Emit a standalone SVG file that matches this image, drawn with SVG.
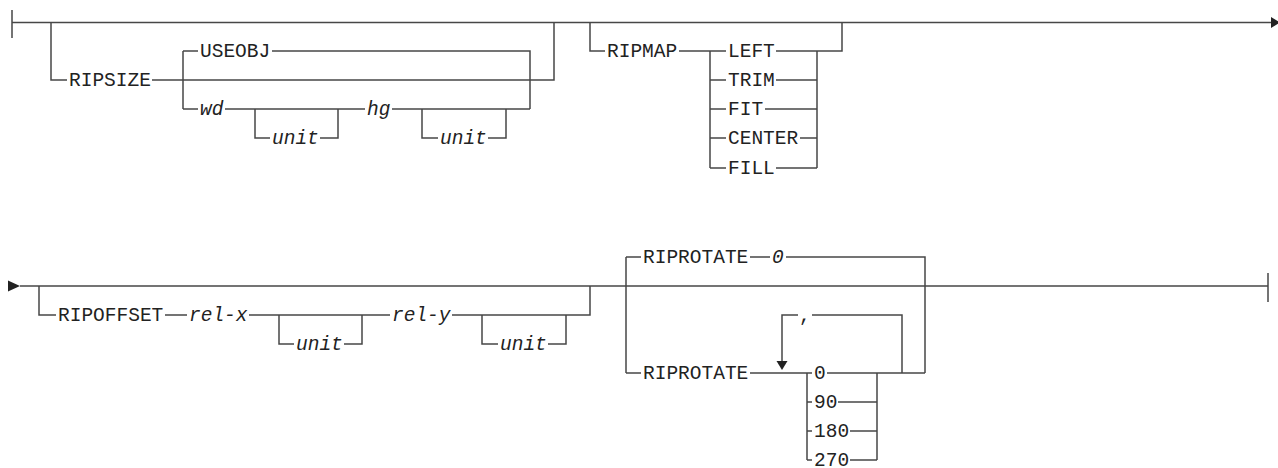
<svg xmlns="http://www.w3.org/2000/svg" width="1278" height="468" viewBox="0 0 1278 468">
<style>
.rail{fill:none;stroke:#474747;stroke-width:1.5}
.arr{fill:#222;stroke:none}
.t{font-family:"Liberation Mono","DejaVu Sans Mono",monospace;font-size:19.5px;fill:#222}
.i{font-style:italic}
</style>
<rect width="1278" height="468" fill="#fff"/>
<g id="connectors">
<path class="rail" d="M12 10V38M12 22.5H1272M51 22.5V80H67M152 80H554V22.5M183 51V109M183 51H198M272 51H530V109M183 109H198M225 109H365M255 109V138H270M320 138H338V109M392 109H530M422 109V138H438M488 138H506V109M590 22.5V51H605M679 51H726M710 51V168M710 80H726M710 109H726M710 138H726M710 168H726M776 51H842V22.5M817 51V168M776 80H817M765 109H817M800 138H817M776 168H817"/>
<polygon class="arr" points="1271,17 1280,22.5 1271,28"/>
<polygon class="arr" points="8,280.5 20,286 8,291.5"/>
<path class="rail" d="M20 286H1268M1268 273V302M39 286V315H56M165 315H187M249 315H390M279 315V344H294M344 344H362V315M452 315H590V286M482 315V344H498M548 344H566V315M626 257V373M626 257H641M750 257H770M786 257H925V373M626 373H641M750 373H812M807 373V460M807 402H812M807 431H812M807 460H812M827 373H877M838 402H877M850 431H877M850 460H877M877 373V460M877 373H925M902 373V315H812M798 315H782V362"/>
<polygon class="arr" points="776.5,361 787.5,361 782,370"/>
</g>
<g id="n-ripsize"><text class="t" x="69" y="86">RIPSIZE</text></g>
<g id="n-useobj"><text class="t" x="200" y="57">USEOBJ</text></g>
<g id="n-wd"><text class="t i" x="200" y="115">wd</text></g>
<g id="n-unit1"><text class="t i" x="272" y="144">unit</text></g>
<g id="n-hg"><text class="t i" x="367" y="115">hg</text></g>
<g id="n-unit2"><text class="t i" x="440" y="144">unit</text></g>
<g id="n-ripmap"><text class="t" x="607" y="57">RIPMAP</text></g>
<g id="n-left"><text class="t" x="728" y="57">LEFT</text></g>
<g id="n-trim"><text class="t" x="728" y="86">TRIM</text></g>
<g id="n-fit"><text class="t" x="728" y="115">FIT</text></g>
<g id="n-center"><text class="t" x="728" y="144">CENTER</text></g>
<g id="n-fill"><text class="t" x="728" y="174">FILL</text></g>
<g id="n-ripoffset"><text class="t" x="58" y="321">RIPOFFSET</text></g>
<g id="n-relx"><text class="t i" x="189" y="321">rel-x</text></g>
<g id="n-unit3"><text class="t i" x="296" y="350">unit</text></g>
<g id="n-rely"><text class="t i" x="392" y="321">rel-y</text></g>
<g id="n-unit4"><text class="t i" x="500" y="350">unit</text></g>
<g id="n-riprotate-default"><text class="t" x="643" y="263">RIPROTATE</text><text class="t i" x="772" y="263">0</text></g>
<g id="n-riprotate"><text class="t" x="643" y="379">RIPROTATE</text></g>
<g id="n-comma"><text class="t" x="799" y="321">,</text></g>
<g id="n-0"><text class="t" x="814" y="379">0</text></g>
<g id="n-90"><text class="t" x="814" y="408">90</text></g>
<g id="n-180"><text class="t" x="814" y="437">180</text></g>
<g id="n-270"><text class="t" x="814" y="465.5">270</text></g>
</svg>
